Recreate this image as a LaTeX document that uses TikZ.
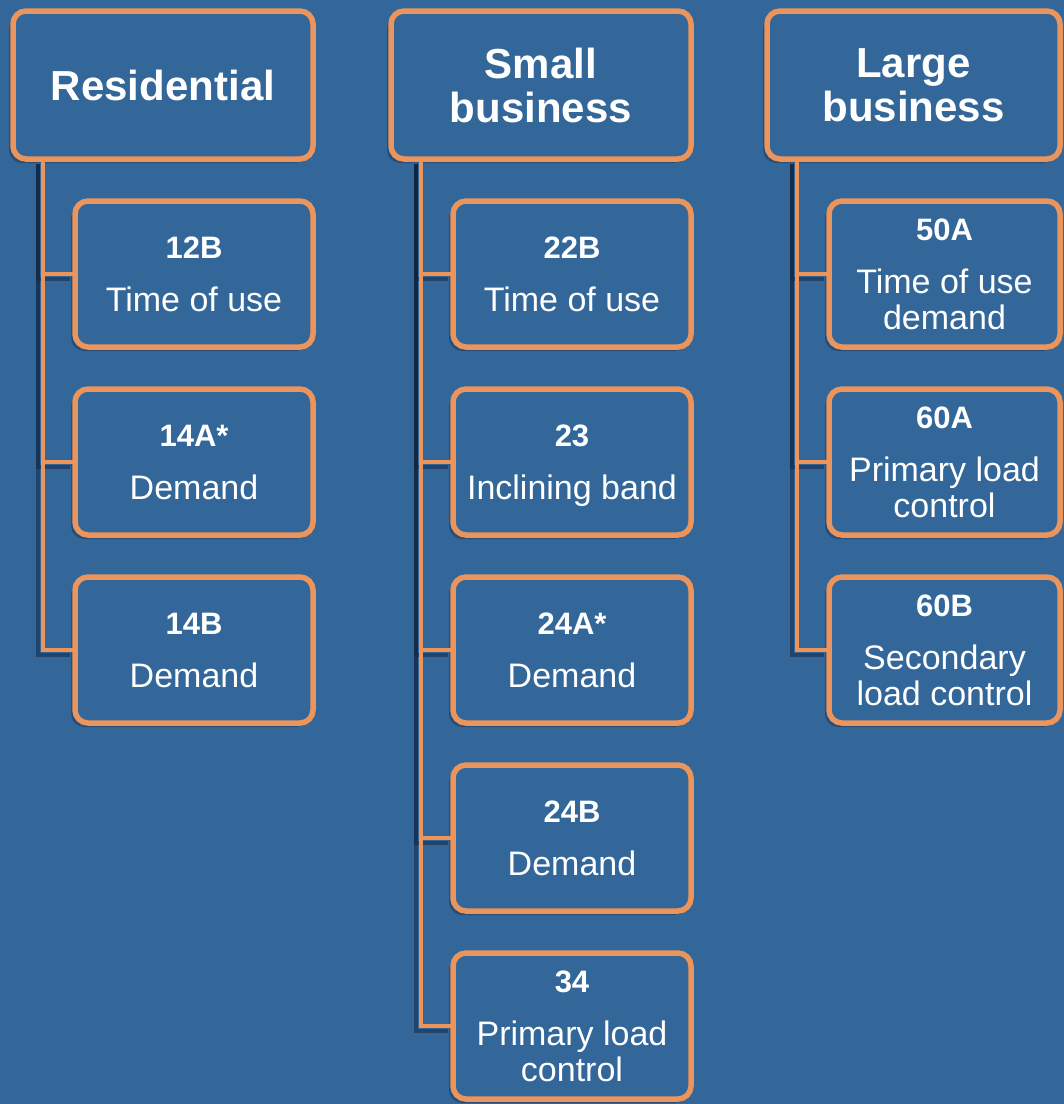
\documentclass[tikz,border=0pt]{standalone}
\usepackage{fontspec}
\setmainfont{Liberation Sans}
\usetikzlibrary{positioning, shadows}
\definecolor{tariffblue}{RGB}{51,102,153}
\definecolor{tarifforange}{RGB}{235,148,92}
\definecolor{tariffshade}{RGB}{18,36,62}

\newcommand{\tcode}[1]{{\fontsize{31}{36}\selectfont\bfseries #1}}

\begin{document}
\begin{tikzpicture}[
      x=1pt, y=-1pt,
      node distance=42pt,
      box/.style={draw=tarifforange, line width=5.5pt, fill=tariffblue, rounded corners=13pt, outer sep=0pt, text=white, align=center,
        drop shadow={shadow xshift=-4pt, shadow yshift=-4pt, opacity=.35, fill=tariffshade}},
      head/.style={box, minimum width=300pt, minimum height=148pt, font=\fontsize{42}{44}\selectfont\bfseries},
      item/.style={box, minimum width=238pt, minimum height=146pt, font=\fontsize{34}{36}\selectfont},
      link/.style={tarifforange, line width=4.5pt},
      linkshade/.style={tariffshade, opacity=.5, line width=4.5pt, transform canvas={xshift=-5pt, yshift=-5pt}}
    ]
      \path[use as bounding box, fill=tariffblue] (0,0) rectangle (1064,1104);

      % customer groups
      \node[head] (res) at (163,85) {Residential};
      \node[head, right=78pt of res] (small) {Small\\business};
      \node[head, minimum width=293pt, right=76pt of small] (large) {Large\\business};

      % residential tariffs
      \node[item, below right=42pt and 62pt of res.south west] (r12B) {\tcode{12B}\\[17pt]Time of use};
      \node[item, below=of r12B] (r14A) {\tcode{14A*}\\[17pt]Demand};
      \node[item, below=of r14A] (r14B) {\tcode{14B}\\[17pt]Demand};

      % small business tariffs
      \node[item, below right=42pt and 62pt of small.south west] (s22B) {\tcode{22B}\\[17pt]Time of use};
      \node[item, below=of s22B] (s23) {\tcode{23}\\[17pt]\smash{Inclining band}};
      \node[item, below=of s23] (s24A) {\tcode{24A*}\\[17pt]Demand};
      \node[item, below=of s24A] (s24B) {\tcode{24B}\\[17pt]Demand};
      \node[item, below=of s24B] (s34) {\tcode{34}\\[17pt]Primary load\\control};

      % large business tariffs
      \node[item, minimum width=231pt, below right=42pt and 62pt of large.south west] (l50A) {\tcode{50A}\\[17pt]Time of use\\demand};
      \node[item, minimum width=231pt, below=of l50A] (l60A) {\tcode{60A}\\[17pt]Primary load\\control};
      \node[item, minimum width=231pt, below=of l60A] (l60B) {\tcode{60B}\\[17pt]Secondary\\load control};

      % trunks and stubs
      \foreach \grp/\tar in {res/r12B, res/r14A, res/r14B, small/s22B, small/s23, small/s24A, small/s24B, small/s34, large/l50A, large/l60A, large/l60B}
        \draw[linkshade] ([xshift=30pt]\grp.south west) |- (\tar.west);
      \foreach \grp/\tar in {res/r12B, res/r14A, res/r14B, small/s22B, small/s23, small/s24A, small/s24B, small/s34, large/l50A, large/l60A, large/l60B}
        \draw[link] ([xshift=30pt]\grp.south west) |- (\tar.west);
    \end{tikzpicture}
\end{document}
